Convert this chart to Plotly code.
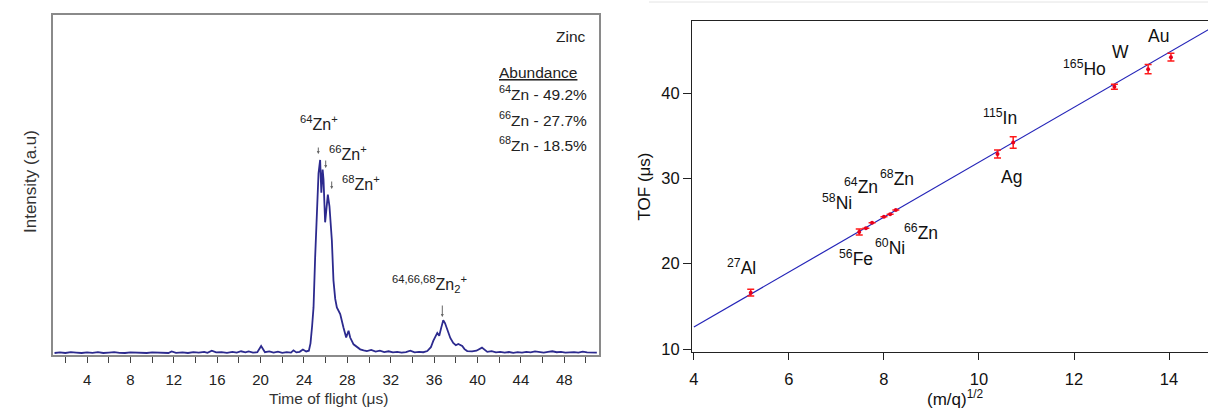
import plotly.graph_objects as go

W, H = 1208, 412

# ---------------- Left panel data: Zinc TOF spectrum ----------------
tof_us = [1.0, 1.5, 2.0, 2.5, 3.0, 3.5, 4.0, 4.5, 5.0, 5.5, 6.0, 6.5, 7.0, 7.5, 8.0, 8.5,
          9.0, 9.5, 10.0, 10.5, 11.0, 11.5, 11.8, 12.2, 12.8, 13.3, 13.8, 14.3, 14.8, 15.1,
          15.5, 15.9, 16.4, 16.9, 17.4, 17.8, 18.2, 18.6, 18.9, 19.3, 19.7, 20.05, 20.4,
          20.8, 21.2, 21.6, 22.0, 22.4, 22.8, 23.03, 23.3, 23.6, 23.9, 24.2, 24.45, 24.6,
          24.75, 24.88, 25.03, 25.19, 25.34, 25.49, 25.6, 25.72, 25.8, 25.95, 26.1, 26.2,
          26.35, 26.57, 26.72, 26.88, 27.03, 27.34, 27.64, 27.89, 28.11, 28.26, 28.57, 28.9,
          29.18, 29.5, 29.8, 30.2, 30.6, 31.0, 31.4, 31.8, 32.2, 32.6, 33.0, 33.4, 33.8,
          34.2, 34.6, 35.0, 35.37, 35.7, 35.92, 36.29, 36.47, 36.65, 36.84, 37.0, 37.21,
          37.49, 37.76, 38.0, 38.23, 38.59, 38.8, 39.05, 39.5, 39.9, 40.41, 40.9, 41.3,
          41.7, 42.1, 42.5, 42.9, 43.3, 43.7, 44.1, 44.5, 44.9, 45.3, 45.7, 46.1, 46.5,
          46.9, 47.3, 47.7, 48.1, 48.5, 48.9, 49.3, 49.7, 50.1, 50.5, 51.0]
intensity = [0.0, 0.003, 0.0, 0.004, 0.002, 0.0, 0.003, 0.001, 0.004, 0.0, 0.002, 0.004,
             0.001, 0.0, 0.003, 0.001, 0.002, 0.0, 0.003, 0.001, 0.002, 0.0, 0.008, 0.001,
             0.003, 0.0, 0.004, 0.002, 0.006, 0.001, 0.012, 0.003, 0.004, 0.001, 0.006,
             0.002, 0.009, 0.003, 0.008, 0.002, 0.004, 0.036, 0.004, 0.008, 0.002, 0.007,
             0.001, 0.004, 0.002, 0.014, 0.003, 0.006, 0.018, 0.008, 0.012, 0.05, 0.14,
             0.236, 0.496, 0.757, 0.931, 1.0, 0.83, 0.95, 0.9, 0.677, 0.79, 0.82, 0.76,
             0.583, 0.375, 0.28, 0.236, 0.202, 0.132, 0.08, 0.115, 0.08, 0.045, 0.03, 0.019,
             0.014, 0.01, 0.016, 0.007, 0.012, 0.005, 0.009, 0.003, 0.006, 0.002, 0.005,
             0.012, 0.003, 0.006, 0.004, 0.01, 0.03, 0.0625, 0.104, 0.089, 0.13, 0.17, 0.155,
             0.125, 0.078, 0.052, 0.04, 0.047, 0.036, 0.02, 0.01, 0.008, 0.012, 0.028, 0.006,
             0.01, 0.003, 0.006, 0.002, 0.005, 0.001, 0.004, 0.002, 0.006, 0.003, 0.008,
             0.004, 0.002, 0.006, 0.009, 0.004, 0.006, 0.002, 0.004, 0.005, 0.002, 0.007,
             0.003, 0.001, 0.002]
left_tick_vals = [4, 8, 12, 16, 20, 24, 28, 32, 36, 40, 44, 48]
abundance_lines = ["<sup>64</sup>Zn - 49.2%", "<sup>66</sup>Zn - 27.7%", "<sup>68</sup>Zn - 18.5%"]

# ---------------- Right panel data: TOF calibration ----------------
elements = ["27Al", "56Fe", "58Ni", "60Ni", "64Zn", "66Zn", "68Zn", "Ag", "115In", "165Ho", "W", "Au"]
sqrt_mq = [5.196, 7.48, 7.62, 7.75, 8.00, 8.13, 8.25, 10.39, 10.72, 12.85, 13.56, 14.04]
tof_meas = [16.6, 23.7, 24.15, 24.8, 25.5, 25.8, 26.3, 32.86, 34.2, 40.74, 42.8, 44.2]
tof_err = [0.4, 0.35, 0.0, 0.0, 0.0, 0.0, 0.0, 0.47, 0.67, 0.3, 0.55, 0.45]
fit_slope = 3.218
fit_intercept = -0.29
fit_x = [4.0, 15.0]
right_y_ticks = [10, 20, 30, 40]

label_text = ["<sup>27</sup>Al", "<sup>58</sup>Ni", "<sup>64</sup>Zn", "<sup>68</sup>Zn",
              "<sup>56</sup>Fe", "<sup>60</sup>Ni", "<sup>66</sup>Zn", "<sup>115</sup>In",
              "Ag", "<sup>165</sup>Ho", "W", "Au"]
label_x = [5.01, 7.02, 7.51, 8.28, 7.41, 8.13, 8.78, 10.44, 10.69, 12.23, 12.98, 13.78]
label_y = [19.61, 27.27, 29.13, 30.1, 20.63, 22.0, 23.75, 37.17, 30.2, 42.94, 44.76, 46.66]

FONT = "Liberation Sans, Arial, sans-serif"


def px(x):
    return x / W


def py(y):
    return 1 - y / H


fig = go.Figure()

fig.add_trace(go.Scatter(x=tof_us, y=intensity, mode="lines",
                         line=dict(color="#2c2a8e", width=1.8),
                         xaxis="x", yaxis="y", showlegend=False))

fit_y = [fit_slope * v + fit_intercept for v in fit_x]
fig.add_trace(go.Scatter(x=fit_x, y=fit_y, mode="lines",
                         line=dict(color="#2424b8", width=1.2),
                         xaxis="x2", yaxis="y2", showlegend=False))
fig.add_trace(go.Scatter(x=sqrt_mq, y=tof_meas, mode="markers",
                         marker=dict(color="#e8001c", size=4),
                         error_y=dict(type="data", array=tof_err, color="#ff1a1a",
                                      thickness=1.5, width=3.5),
                         xaxis="x2", yaxis="y2", showlegend=False))

ann = []
# left panel texts
ann.append(dict(text="Zinc", x=px(588), y=py(37), xanchor="right", yanchor="middle",
                font=dict(size=15.5, color="#222")))
ann.append(dict(text="<u>Abundance</u>", x=px(497), y=py(72), xanchor="left", yanchor="middle",
                font=dict(size=15.5, color="#222")))
for i, t in enumerate(abundance_lines):
    ann.append(dict(text=t, x=px(497), y=py(93 + 25.5 * i), xanchor="left", yanchor="middle",
                    font=dict(size=15.5, color="#222")))

peak_labels = [("<sup>64</sup>Zn<sup>+</sup>", 298, 123),
               ("<sup>66</sup>Zn<sup>+</sup>", 327, 153),
               ("<sup>68</sup>Zn<sup>+</sup>", 340, 183),
               ("<sup>64,66,68</sup>Zn<sub>2</sub><sup>+</sup>", 390, 284)]
for t, x0, y0 in peak_labels:
    ann.append(dict(text=t, x=px(x0), y=py(y0), xanchor="left", yanchor="middle",
                    font=dict(size=16, color="#222")))

arrows = [(318.3, 154, -8), (325.7, 168, -9), (331.7, 189, -9), (442.3, 317, -13)]
for x0, y0, ay in arrows:
    ann.append(dict(text="", x=px(x0), y=py(y0), showarrow=True, ax=0, ay=ay,
                    arrowhead=2, arrowsize=0.6, arrowwidth=1, arrowcolor="#666"))

ann.append(dict(text="Intensity (a.u)", x=px(30), y=py(181), textangle=-90,
                xanchor="center", yanchor="middle", font=dict(size=17, color="#333")))
ann.append(dict(text="Time of flight (μs)", x=px(328), y=py(398), xanchor="center",
                yanchor="middle", font=dict(size=15.5, color="#333")))

# right panel texts
for t, xv, yv in zip(label_text, label_x, label_y):
    ann.append(dict(text=t, x=xv, y=yv, xref="x2", yref="y2", xanchor="center",
                    yanchor="middle", font=dict(size=17.5, color="#111")))
ann.append(dict(text="TOF (μs)", x=px(643.5), y=py(187), textangle=-90,
                xanchor="center", yanchor="middle", font=dict(size=17, color="#111")))
ann.append(dict(text="(m/q)<sup>1/2</sup>", x=px(955), y=py(385), xanchor="center",
                yanchor="top", font=dict(size=17, color="#111")))

for a in ann:
    a.setdefault("xref", "paper")
    a.setdefault("yref", "paper")
    a.setdefault("showarrow", False)

fig.update_layout(
    width=W, height=H,
    margin=dict(l=0, r=0, t=0, b=0, autoexpand=False),
    paper_bgcolor="white", plot_bgcolor="white",
    font=dict(family=FONT, color="#111"),
    annotations=ann,
    xaxis=dict(domain=[px(53), px(599)], range=[0.86, 51.2], anchor="y", automargin=False,
               showline=True, mirror=True, linecolor="#8a8a8a", linewidth=1.5,
               ticks="outside", ticklen=6, tickcolor="#444", tickwidth=1,
               tickvals=left_tick_vals, tickfont=dict(size=15, color="#222"),
               ticklabelstandoff=4,
               minor=dict(dtick=2, tick0=0, ticks="outside", ticklen=6, tickcolor="#444"),
               showgrid=False, zeroline=False),
    yaxis=dict(domain=[py(355), py(15)], range=[-0.0104, 1.751], anchor="x", automargin=False,
               showline=True, mirror=True, linecolor="#8a8a8a", linewidth=1.5,
               showticklabels=False, ticks="", showgrid=False, zeroline=False),
    xaxis2=dict(domain=[px(692), 1.0], range=[3.96, 14.82], anchor="y2", automargin=False,
                showline=True, mirror=True, linecolor="#222", linewidth=1.2,
                ticks="outside", ticklen=7, tickcolor="#222", dtick=2, tick0=0,
                ticklabelstandoff=5,
                tickfont=dict(size=16.5, color="#111"), showgrid=False, zeroline=False),
    yaxis2=dict(domain=[py(352), py(21)], range=[9.65, 48.44], anchor="x2", automargin=False,
                showline=True, linecolor="#222", linewidth=1.2,
                ticks="outside", ticklen=8, tickcolor="#222", tickvals=right_y_ticks,
                tickfont=dict(size=16.5, color="#111"), showgrid=False, zeroline=False),
    shapes=[dict(type="line", xref="paper", yref="paper", x0=px(649), x1=1.0,
                 y0=py(2), y1=py(2), line=dict(color="#e4e4e4", width=1))],
)

fig.write_html("out.html", config={"displayModeBar": False},
               post_script="document.body.style.margin='0';document.body.style.overflow='hidden';")
